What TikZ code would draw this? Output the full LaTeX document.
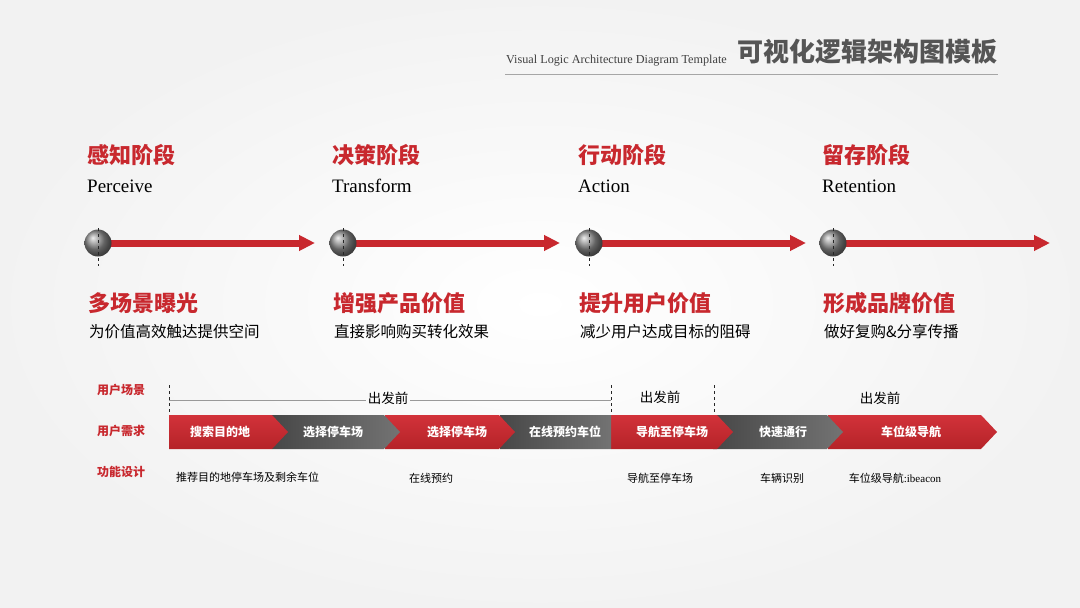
\documentclass[tikz,border=0pt]{standalone}
\usepackage{fontspec}
\setmainfont{Liberation Serif}
\newfontfamily\cjk{Noto Sans CJK SC}
\usetikzlibrary{arrows.meta}
\definecolor{stagered}{HTML}{C8282E}
\definecolor{segredtop}{HTML}{D2323A}
\definecolor{segredbot}{HTML}{B52328}
\definecolor{titlegray}{HTML}{555555}

\begin{document}
\begin{tikzpicture}[x=1pt,y=-1pt,
  head/.style={anchor=west,inner sep=0pt,text=stagered,font=\cjk\bfseries\fontsize{22}{24}\selectfont},
  eng/.style={anchor=west,inner sep=0pt,font=\fontsize{19}{22}\selectfont},
  desc/.style={anchor=west,inner sep=0pt,font=\cjk\fontsize{15.5}{18}\selectfont},
  ballnode/.style={circle,minimum size=27pt,inner sep=0pt,ball color=black!45},
  flow/.style={line width=7pt,stagered,-{Triangle[length=16pt,width=15pt]}},
  guide/.style={dashed,line width=0.7pt,black!85},
  rowlab/.style={inner sep=0pt,text=stagered,font=\cjk\bfseries\fontsize{12}{14}\selectfont},
  segtext/.style={inner sep=0pt,text=white,font=\cjk\bfseries\fontsize{12}{14}\selectfont},
  func/.style={inner sep=0pt,font=\cjk\fontsize{11}{13}\selectfont},
  scene/.style={inner sep=2pt,font=\cjk\fontsize{13.5}{16}\selectfont},
  redseg/.style={top color=segredtop,bottom color=segredbot},
  grayseg/.style={left color=black!72,middle color=black!42,right color=black!55}]
\useasboundingbox (0,0) rectangle (1080,608);
\shade[inner color=white,outer color=black!5] (0,0) rectangle (1080,608);

% title
\node[anchor=east,inner sep=0pt,text=titlegray,font=\cjk\bfseries\fontsize{26}{28}\selectfont] (title) at (998,52) {可视化逻辑架构图模板};
\node[anchor=east,inner sep=0pt,text=black!75,font=\fontsize{12.2}{14}\selectfont] (subtitle) at (727,61) {Visual Logic Architecture Diagram Template};
\coordinate (ruleL) at (505,74);
\coordinate (ruleR) at (998,74);
\draw[black!35,line width=0.6pt] (ruleL) -- (ruleR);

% stages
\foreach \i/\x/\a/\b/\c/\d in %
{1/98/感知阶段/Perceive/多场景曝光/为价值高效触达提供空间,
 2/343/决策阶段/Transform/增强产品价值/直接影响购买转化效果,
 3/589/行动阶段/Action/提升用户价值/减少用户达成目标的阻碍,
 4/833/留存阶段/Retention/形成品牌价值/做好复购\&分享传播} {
   \node[head] (stage\i) at (\x-11,155) {\a};
   \node[eng] (eng\i) at (\x-11,186) {\b};
   \node[head] (goal\i) at (\x-10,303) {\c};
   \node[desc] (desc\i) at (\x-9,332) {\d};
   \coordinate (top\i) at (\x,228);
   \coordinate (bot\i) at (\x,266);
   \coordinate (end\i) at (\x+217,243);
   \draw[flow] (\x,243) -- (end\i);
   \node[ballnode] (ball\i) at (\x,243) {};
   \draw[guide] (top\i) -- (bot\i);
}

% rows
\node[rowlab] (rowscene) at (121,390) {用户场景};
\node[rowlab] (rowneed) at (121,431) {用户需求};
\node[rowlab] (rowfunc) at (121,472) {功能设计};

% chevrons, drawn right to left
\foreach \i/\a/\b/\d/\s in %
{7/828/981/16/redseg,6/713/827/16/grayseg,5/611/717/16/redseg,4/500/611/0/grayseg,
 3/385/499/16/redseg,2/272/384/16/grayseg,1/169/272/16/redseg} {
   \shade[\s] (\a,415) -- (\b,415) -- (\b+\d,432) -- (\b,449) -- (\a,449) -- cycle;
}
\foreach \i/\x/\t in %
{1/220/搜索目的地,2/333/选择停车场,3/457/选择停车场,4/565/在线预约车位,
 5/672/导航至停车场,6/783/快速通行,7/911/车位级导航} {
   \node[segtext] (need\i) at (\x,432) {\t};
}

% scenes
\foreach \i/\x in {1/169,2/611,3/714} {
   \coordinate (sceneT\i) at (\x,385);
   \coordinate (sceneB\i) at (\x,414);
   \draw[guide,line width=0.6pt] (sceneT\i) -- (sceneB\i);
}
\node[scene] (scene1) at (388,398) {出发前};
\node[scene] (scene2) at (660,397) {出发前};
\node[scene] (scene3) at (880,398) {出发前};
\coordinate (lineL) at (169,400);
\coordinate (lineR) at (611,400);
\draw[black!40,line width=0.6pt] (lineL) -- (scene1.west |- lineL);
\draw[black!40,line width=0.6pt] (scene1.east |- lineR) -- (lineR);

% functions
\node[func,anchor=west] (func1) at (176,477) {推荐目的地停车场及剩余车位};
\node[func] (func2) at (431,478) {在线预约};
\node[func] (func3) at (660,478) {导航至停车场};
\node[func] (func4) at (782,478) {车辆识别};
\node[func] (func5) at (895,478) {车位级导航{\rmfamily:ibeacon}};
\end{tikzpicture}
\end{document}
